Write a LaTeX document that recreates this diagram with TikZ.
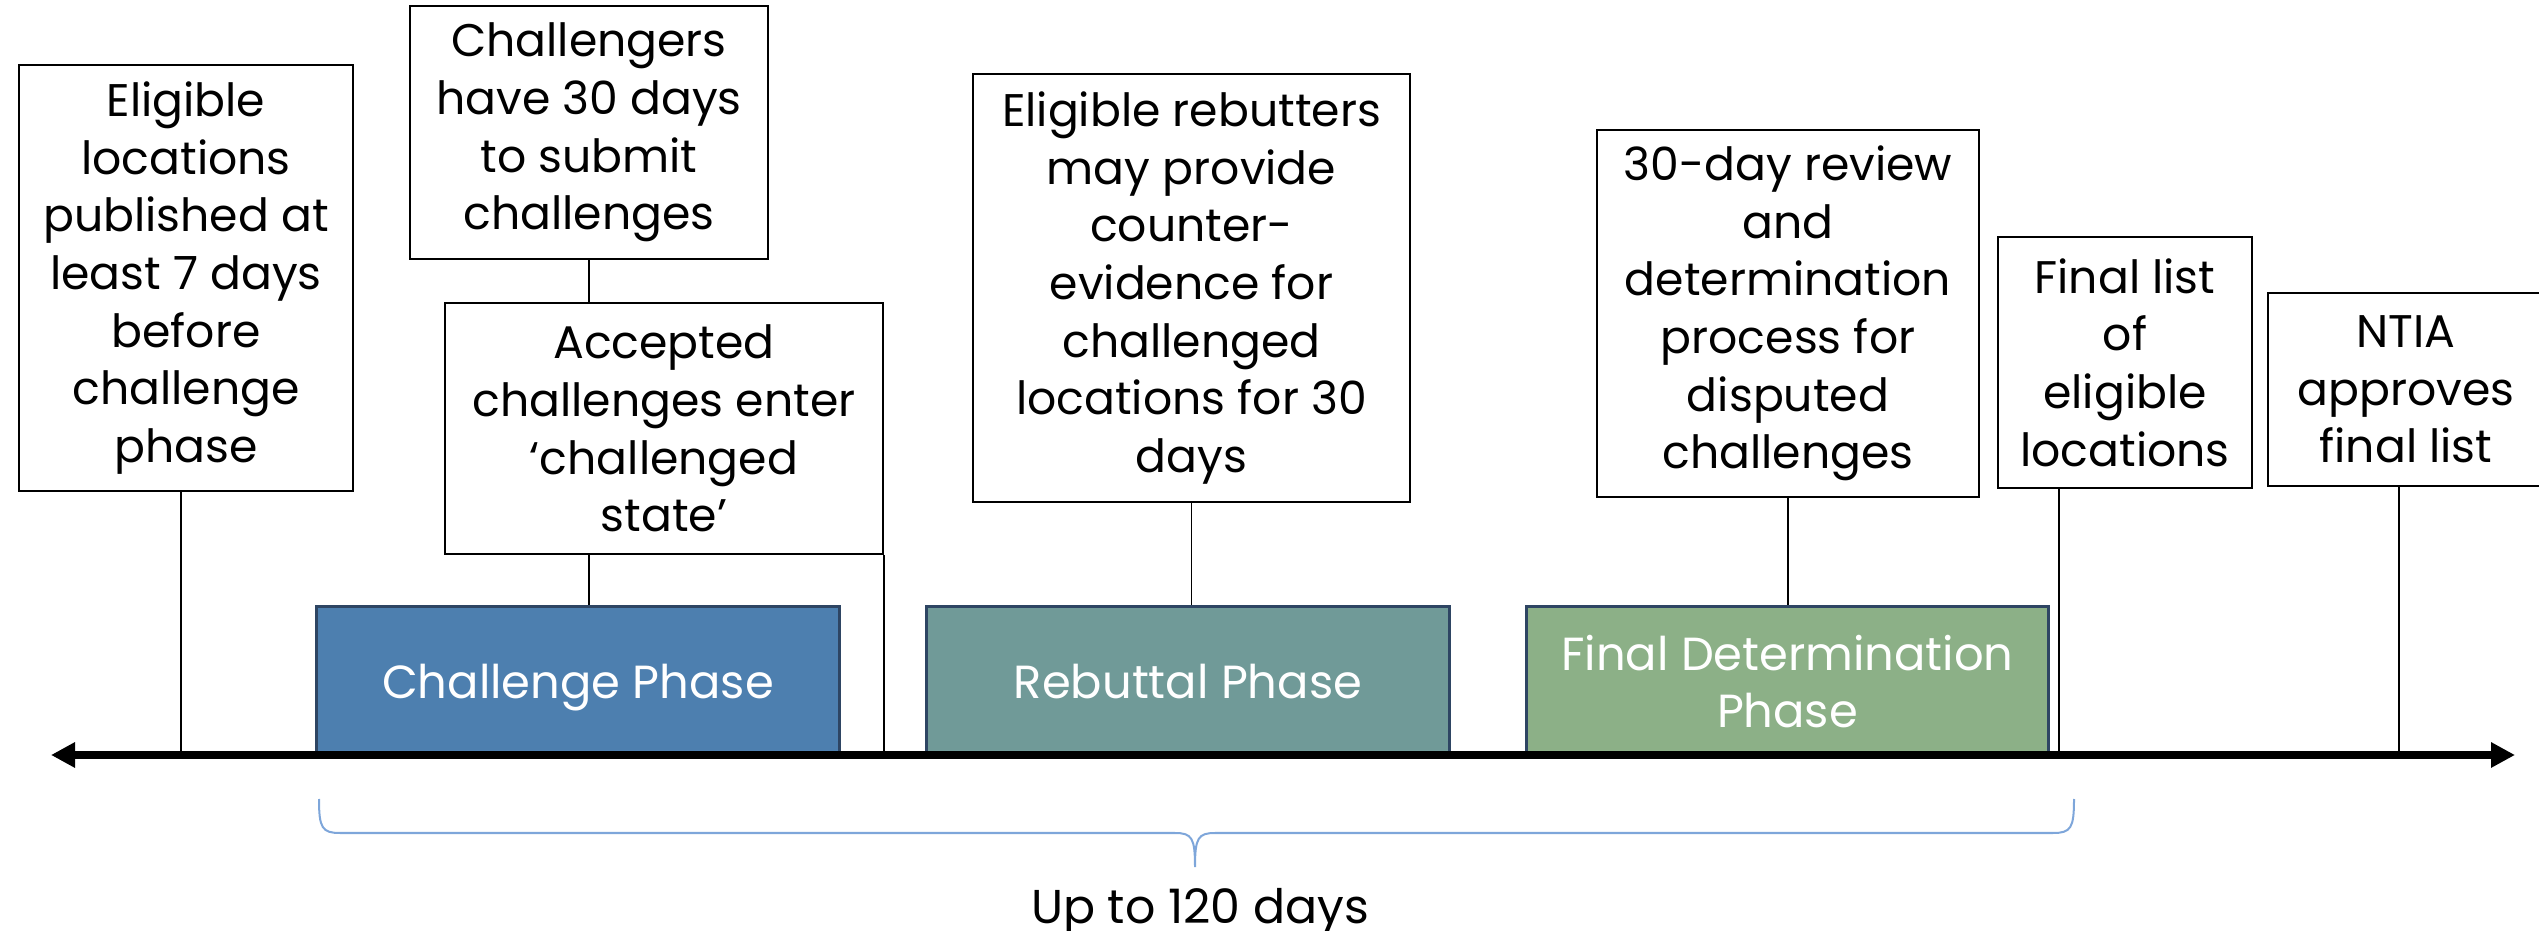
\documentclass[tikz,border=0pt]{standalone}
\usepackage{fontspec}
\setmainfont{Poppins}
\usetikzlibrary{arrows.meta,calc}

\definecolor{chalblue}{HTML}{4D7FAF}
\definecolor{rebutteal}{HTML}{709A98}
\definecolor{finalgreen}{HTML}{8CB087}
\definecolor{phaseedge}{HTML}{2E4563}
\definecolor{bracecol}{HTML}{7EA6DA}

\begin{document}
\begin{tikzpicture}[x=0.01cm,y=-0.01cm,
  note/.style={draw=black,line width=0.02cm,fill=white,align=center,inner sep=0pt,
    font=\fontsize{13}{16.4}\selectfont},
  phase/.style={draw=phaseedge,line width=0.03cm,text=white,align=center,inner sep=0pt,
    text depth=0pt,minimum width=5.22cm,minimum height=1.49cm,
    font=\fontsize{13.2}{16.2}\selectfont},
  tick/.style={line width=0.015cm,black},
  spanbrace/.style={draw=bracecol,line width=0.02cm},
  >={Triangle[length=0.24cm,width=0.24cm]}]
\path[use as bounding box,clip] (0,0) rectangle (2539,931);

% phases on the time line
\node[phase,fill=chalblue] (chal) at (578,681) {Challenge Phase};
\node[phase,fill=rebutteal] (reb) at (1188,681) {Rebuttal Phase};
\node[phase,fill=finalgreen] (fin) at (1787.5,681) {Final Determination\\Phase};

% call-outs
\node[note,minimum width=3.34cm,minimum height=4.26cm] (pub) at (186,278)
  {Eligible\\locations\\published at\\least 7 days\\before\\challenge\\phase};
\node[note,minimum width=3.58cm,minimum height=2.53cm] (submit) at (589,132.5)
  {Challengers\\have 30 days\\to submit\\challenges};
\node[note,minimum width=4.38cm,minimum height=2.51cm] (accept) at (664,428.5)
  {Accepted\\challenges enter\\‘challenged\\state’};
\node[note,minimum width=4.37cm,minimum height=4.28cm] (rebut) at (1191.5,288)
  {Eligible rebutters\\may provide\\counter-\\evidence for\\challenged\\locations for 30\\days};
\node[note,minimum width=3.82cm,minimum height=3.67cm] (review) at (1788,313.5)
  {30-day review\\and\\determination\\process for\\disputed\\challenges};
\node[note,minimum width=2.54cm,minimum height=2.51cm] (list) at (2125,362.5)
  {Final list\\of\\eligible\\locations};
\node[note,minimum width=2.76cm,minimum height=1.93cm] (ntia) at (2406,389.5)
  {NTIA\\approves\\final list};

\coordinate (tl-w) at (51,755);
\coordinate (tl-e) at (2515,755);
\coordinate (pub-foot) at ($(pub.south)+(-5,0)$);
\coordinate (list-foot) at ($(list.south west)+(62,0)$);
\coordinate (ntia-foot) at ($(ntia.south)+(-7,0)$);

% leader lines
\draw[tick] (pub-foot) -- (pub-foot |- tl-w);
\draw[tick] (submit.south) -- (submit.south |- accept.north);
\draw[tick] (accept.south -| submit.south) -- (chal.north -| submit.south);
\draw[tick] (accept.south east) -- (accept.south east |- tl-w);
\draw[tick] (rebut.south) -- (rebut.south |- reb.north);
\draw[tick] (review.south) -- (review.south |- fin.north);
\draw[tick] (list-foot) -- (list-foot |- tl-w);
\draw[tick] (ntia-foot) -- (ntia-foot |- tl-w);

% time line
\draw[line width=0.07cm,<->] (tl-w) -- (tl-e);

% brace
\draw[spanbrace] (319,799) .. controls (319,828) and (322,833) .. (340,833)
  -- (1175,833) .. controls (1192,833) and (1195,838) .. (1195,867)
  .. controls (1195,838) and (1198,833) .. (1215,833)
  -- (2053,833) .. controls (2071,833) and (2074,828) .. (2074,799);
\node[font=\fontsize{13.5}{16}\selectfont,anchor=base] (span) at (1200,923) {Up to 120 days};
\end{tikzpicture}
\end{document}
